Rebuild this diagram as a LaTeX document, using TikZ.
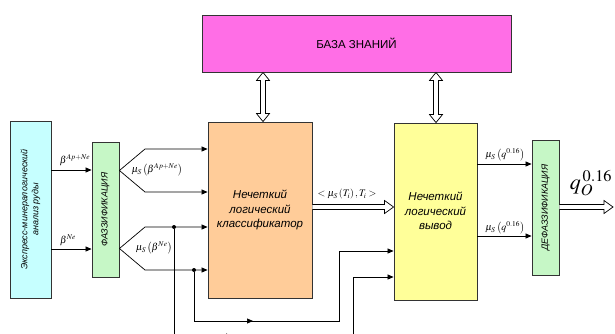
\documentclass[tikz,border=0pt]{standalone}
\usepackage{mathptmx}
\usepackage{fontspec}
\setmainfont{Liberation Sans}
\usetikzlibrary{arrows.meta,calc}
\definecolor{cyanbox}{HTML}{C6FFFF}
\definecolor{greenbox}{HTML}{C6F7C6}
\definecolor{orangebox}{HTML}{FFCC99}
\definecolor{yellowbox}{HTML}{FFFF99}
\definecolor{magbox}{HTML}{FF6EE6}
\definecolor{edge}{HTML}{333333}
% hollow arrow to the right from #1 to #2 (same y)
\newcommand\hollowright[2]{%
  \draw[line width=0.7pt, fill=white, line join=miter]
    ($(#1)+(0,-2.5)$) -- ($(#2)+(-9,-2.5)$) -- ($(#2)+(-9,-6.5)$) -- (#2)
    -- ($(#2)+(-9,6.5)$) -- ($(#2)+(-9,2.5)$) -- ($(#1)+(0,2.5)$);}
% hollow double-headed vertical arrow from #1 (top) to #2 (bottom)
\newcommand\hollowvert[2]{%
  \draw[line width=0.7pt, fill=white, line join=miter]
    (#1) -- ($(#1)+(6.5,8)$) -- ($(#1)+(2.5,8)$) -- ($(#2)+(2.5,-8)$) -- ($(#2)+(6.5,-8)$)
    -- (#2) -- ($(#2)+(-6.5,-8)$) -- ($(#2)+(-2.5,-8)$) -- ($(#1)+(-2.5,8)$) -- ($(#1)+(-6.5,8)$) -- cycle;}
\begin{document}
\begin{tikzpicture}[x=1pt,y=-1pt,
  box/.style={draw=edge, line width=0.9pt, inner sep=0pt},
  arr/.style={line width=0.7pt, -{Triangle[length=6pt,width=5pt]}},
  ln/.style={line width=0.7pt},
  rtext/.style={rotate=90, font=\itshape\fontsize{9}{11}\selectfont, align=center, inner sep=0pt},
  mtext/.style={font=\itshape\fontsize{11.5}{14.5}\selectfont, align=center, inner sep=0pt},
  lab/.style={font=\fontsize{10}{11}\selectfont, inner sep=0pt},
  dot/.style={circle, fill=black, inner sep=0pt, minimum size=4pt}]
\clip (0,0) rectangle (615,333);
\fill[white] (0,0) rectangle (615,333);
% boxes
\node[box, fill=cyanbox, minimum width=41pt, minimum height=177pt] (cyan) at (30.5,209.5) {};
\node[rtext] (cyant) at (cyan) {Экспресс-минералогический\\анализ руды};
\node[box, fill=greenbox, minimum width=27pt, minimum height=135pt] (fuzz) at (105.5,209.5) {};
\node[rtext] (fuzzt) at (fuzz) {ФАЗЗИФИКАЦИЯ};
\node[box, fill=orangebox, minimum width=104pt, minimum height=176pt] (orange) at (260,210) {};
\node[mtext] (oranget) at (260,210) {Нечеткий\\логический\\классификатор};
\node[box, fill=yellowbox, minimum width=83pt, minimum height=177pt] (yellow) at (435.5,211.5) {};
\node[mtext] (yellowt) at (435.5,211) {Нечеткий\\логический\\вывод};
\node[box, fill=greenbox, minimum width=27pt, minimum height=135pt] (defuzz) at (545.5,207.5) {};
\node[rtext] (defuzzt) at (defuzz) {ДЕФАЗЗИФИКАЦИЯ};
\node[box, fill=magbox, minimum width=309pt, minimum height=57pt, font=\fontsize{11.5}{13}\selectfont] (kb) at (356.5,43.5) {БАЗА ЗНАНИЙ};
% inputs to fuzzification
\draw[arr] (cyan.east |- 0,170) -- (fuzz.west |- 0,170);
\draw[arr] (cyan.east |- 0,249) -- (fuzz.west |- 0,249);
\node[lab] (b1) at (75,160) {$\beta^{\scriptstyle Ap+Ne}$};
\node[lab] (b2) at (68,240) {$\beta^{\scriptstyle Ne}$};
% brackets to classifier
\coordinate (ap1) at (fuzz.east |- 0,170.5);
\coordinate (ap2) at (fuzz.east |- 0,248.5);
\draw[arr] (ap1) -- (145,149) -- (orange.west |- 0,149);
\draw[arr] (ap1) -- (145,192) -- (orange.west |- 0,192);
\draw[arr] (ap2) -- (145,227) -- (orange.west |- 0,227);
\draw[arr] (ap2) -- (145,270) -- (orange.west |- 0,270);
\node[lab] (m1) at (157,170) {$\mu_{\scriptstyle S}\left(\beta^{\scriptstyle Ap+Ne}\right)$};
\node[lab] (m2) at (154,248) {$\mu_{\scriptstyle S}\left(\beta^{\scriptstyle Ne}\right)$};
% branch lines
\node[dot] (d1) at (174,227) {};
\node[dot] (d2) at (194,270) {};
\draw[ln] (d2) -- (194,321) -- (339,321) -- (339,251);
\draw[arr] (d2 |- 0,321) -- (253,321);
\draw[arr] (339,251) -- (yellow.west |- 0,251);
\draw[ln] (d1) -- (174,336) -- (353,336) -- (353,277);
\draw[arr] (174,336) -- (232,336);
\draw[arr] (353,277) -- (yellow.west |- 0,277);
% classifier to inference
\coordinate (h1a) at (orange.east |- 0,207);
\coordinate (h1b) at (yellow.west |- 0,207);
\hollowright{h1a}{h1b}
\node[lab] (tl) at (347,194) {$<\mu_{\scriptstyle S}\left(T_{i}\right),T_{i}>$};
% knowledge base links
\coordinate (v1a) at (kb.south -| 263,0);
\coordinate (v1b) at (orange.north -| 263,0);
\hollowvert{v1a}{v1b}
\coordinate (v2a) at (kb.south -| 436,0);
\coordinate (v2b) at (yellow.north -| 436,0);
\hollowvert{v2a}{v2b}
% inference to defuzz
\draw[arr] (yellow.east |- 0,164) -- (defuzz.west |- 0,164);
\draw[arr] (yellow.east |- 0,236) -- (defuzz.west |- 0,236);
\node[lab] (q1) at (505,155) {$\mu_{\scriptstyle S}\left(q^{\scriptstyle 0.16}\right)$};
\node[lab] (q2) at (505,228) {$\mu_{\scriptstyle S}\left(q^{\scriptstyle 0.16}\right)$};
% output
\coordinate (h2a) at (defuzz.east |- 0,207);
\coordinate (out) at (613,207);
\hollowright{h2a}{out}
\node[font=\fontsize{22}{24}\selectfont, inner sep=0pt] (qo) at (591,183) {$q_{\scriptstyle O}^{\,\mathrm{0.16}}$};
\end{tikzpicture}
\end{document}
